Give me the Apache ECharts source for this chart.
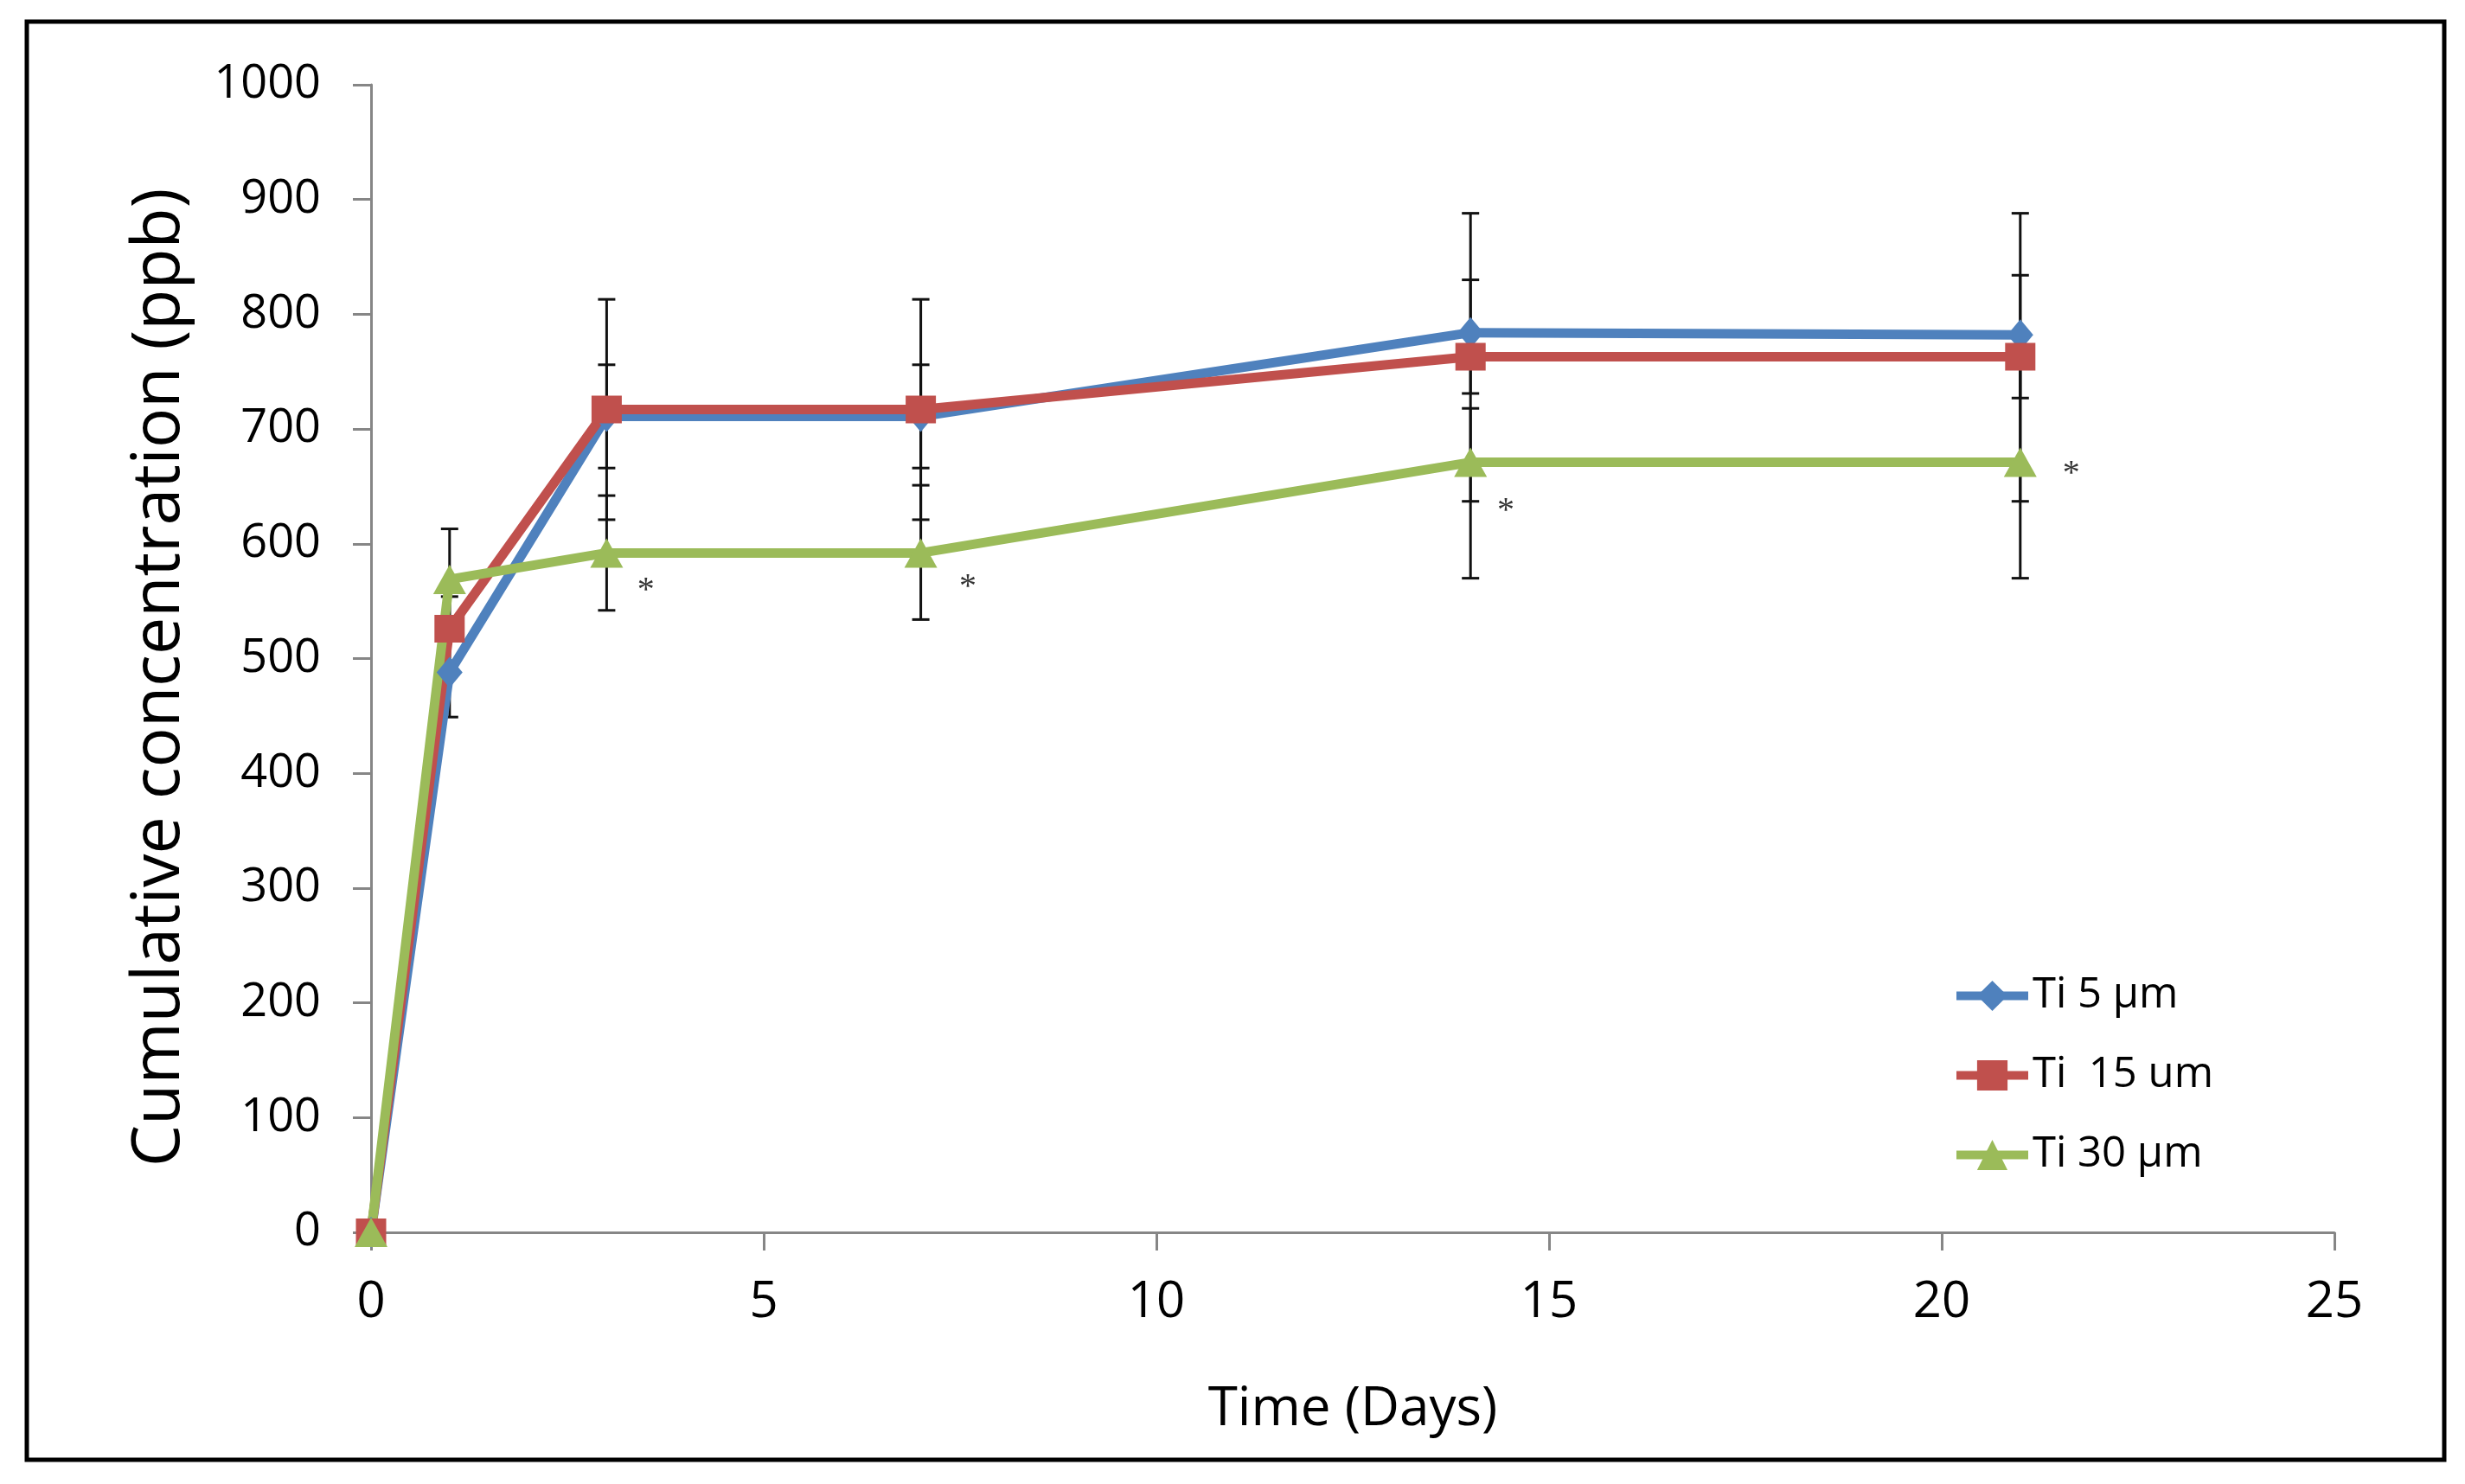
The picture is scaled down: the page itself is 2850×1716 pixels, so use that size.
<!DOCTYPE html>
<html>
<head>
<meta charset="utf-8">
<script src="https://cdn.jsdelivr.net/npm/echarts@6/dist/echarts.min.js"></script>
<style>
html,body{margin:0;padding:0;background:#fff;}
#chart{width:2850px;height:1716px;}
</style>
</head>
<body>
<div id="chart"></div>
<script>
// ---- data ----
const days = [0, 1, 3, 7, 14, 21];
const seriesNames = ['Ti 5 \u00b5m', 'Ti  15 um', 'Ti 30 \u00b5m'];
const ti5 = [0, 488, 711, 711, 784, 782];
const ti15 = [0, 526, 717, 717, 763, 763];
const ti30 = [0, 569, 592, 592, 671, 671];
const ti5Low = [0, 449, 666, 666, 731, 727];
const ti5High = [0, 527, 756, 756, 830, 834];
const ti15Low = [0, 498, 621, 621, 637, 637];
const ti15High = [0, 554, 813, 813, 888, 888];
const ti30Low = [0, 525, 542, 534, 570, 570];
const ti30High = [0, 613, 642, 651, 718, 771];
const starX = [3.5, 7.6, 14.45, 21.65];
const starY = [563, 566, 633, 665];
const yTicks = [0, 100, 200, 300, 400, 500, 600, 700, 800, 900, 1000];
const xTicks = [0, 5, 10, 15, 20, 25];

const colors = ['#4F81BD', '#C0504D', '#9BBB59'];
const FONT = 'Open Sans';

function errData(low, high) {
  const out = [];
  days.forEach((d, i) => { if (high[i] > low[i]) out.push([d, low[i], high[i]]); });
  return out;
}
const allErr = [].concat(errData(ti5Low, ti5High), errData(ti15Low, ti15High), errData(ti30Low, ti30High));

function renderErr(params, api) {
  const x = api.value(0), lo = api.value(1), hi = api.value(2);
  const p1 = api.coord([x, lo]);
  const p2 = api.coord([x, hi]);
  const hw = 10;
  const st = { stroke: '#111', lineWidth: 3 };
  return {
    type: 'group',
    children: [
      { type: 'line', shape: { x1: p1[0], y1: p1[1], x2: p2[0], y2: p2[1] }, style: st },
      { type: 'line', shape: { x1: p1[0] - hw, y1: p1[1], x2: p1[0] + hw, y2: p1[1] }, style: st },
      { type: 'line', shape: { x1: p2[0] - hw, y1: p2[1], x2: p2[0] + hw, y2: p2[1] }, style: st }
    ]
  };
}

function lineSeries(name, vals, color, symbol, size) {
  return {
    name: name, type: 'line', data: days.map((d, i) => [d, vals[i]]),
    symbol: symbol, symbolSize: size, showSymbol: true,
    lineStyle: { color: color, width: 11 },
    itemStyle: { color: color },
    z: 3
  };
}

const chart = echarts.init(document.getElementById('chart'));
chart.setOption({
  animation: false,
  backgroundColor: '#fff',
  textStyle: { fontFamily: FONT },
  grid: { left: 429, right: 151, top: 98, bottom: 291 },
  legend: {
    orient: 'vertical', left: 2252, top: 1122,
    itemWidth: 83, itemHeight: 44, itemGap: 43,
    data: seriesNames,
    lineStyle: { width: 10 },
    textStyle: { fontFamily: FONT, fontSize: 49, color: '#000' }
  },
  xAxis: {
    type: 'value', min: xTicks[0], max: xTicks[xTicks.length - 1], interval: 5,
    name: 'Time (Days)', nameLocation: 'middle', nameGap: 174,
    nameTextStyle: { fontFamily: FONT, fontSize: 62, color: '#000' },
    axisLine: { show: true, onZero: false, lineStyle: { color: '#868686', width: 3 } },
    axisTick: { show: true, length: 21, lineStyle: { color: '#868686', width: 3 } },
    axisLabel: { fontFamily: FONT, fontSize: 58, color: '#000', margin: 52 },
    splitLine: { show: false }
  },
  yAxis: {
    type: 'value', min: yTicks[0], max: yTicks[yTicks.length - 1], interval: 100,
    name: 'Cumulative concentration (ppb)', nameLocation: 'middle', nameGap: 205,
    nameTextStyle: { fontFamily: FONT, fontSize: 77, color: '#000', padding: [0, 44, 0, 0] },
    axisLine: { show: true, lineStyle: { color: '#868686', width: 3 } },
    axisTick: { show: true, length: 21, lineStyle: { color: '#868686', width: 3 } },
    axisLabel: { fontFamily: FONT, fontSize: 54, color: '#000', margin: 58, formatter: function (v) { return String(v); } },
    splitLine: { show: false }
  },
  graphic: [
    { type: 'rect', shape: { x: 31, y: 25, width: 2795, height: 1663 }, style: { fill: 'none', stroke: '#000', lineWidth: 5 }, z: 100 }
  ],
  series: [
    { type: 'custom', name: 'err', renderItem: renderErr, data: allErr, z: 1, silent: true },
    lineSeries(seriesNames[0], ti5, colors[0], 'diamond', [30, 36]),
    lineSeries(seriesNames[1], ti15, colors[1], 'rect', [35, 32]),
    lineSeries(seriesNames[2], ti30, colors[2], 'triangle', [38, 34]),
    {
      type: 'scatter', name: 'stars', data: starX.map((x, i) => [x, starY[i]]),
      symbolSize: 1, itemStyle: { color: 'transparent' }, silent: true,
      label: { show: true, position: 'inside', formatter: '*', fontFamily: 'Liberation Serif', fontSize: 40, color: '#000', offset: [0, 6] },
      z: 4
    }
  ]
});
</script>
</body>
</html>
